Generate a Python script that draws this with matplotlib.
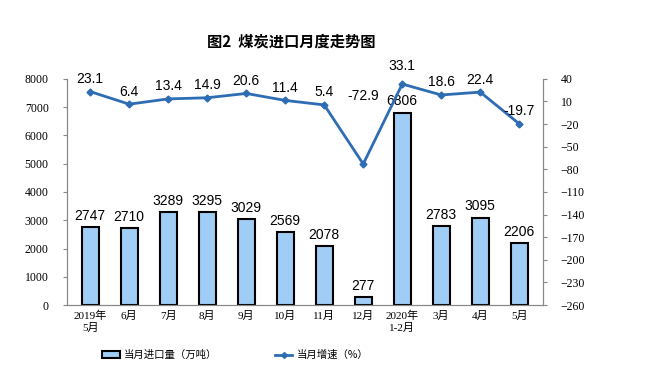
import matplotlib
matplotlib.use("Agg")
import matplotlib.pyplot as plt
from matplotlib.patches import Patch
from matplotlib.lines import Line2D

plt.rcParams['font.family'] = ['Liberation Serif', 'Noto Sans CJK SC']

months = ["2019年\n5月", "6月", "7月", "8月", "9月", "10月", "11月", "12月",
          "2020年\n1-2月", "3月", "4月", "5月"]
imports = [2747, 2710, 3289, 3295, 3029, 2569, 2078, 277, 6806, 2783, 3095, 2206]
growth = [23.1, 6.4, 13.4, 14.9, 20.6, 11.4, 5.4, -72.9, 33.1, 18.6, 22.4, -19.7]

bar_color = "#9fcdf5"
line_color = "#2e6db4"
label_font = ['Liberation Sans', 'Noto Sans CJK SC']

fig = plt.figure(figsize=(6.61, 3.79), dpi=100)
ax = fig.add_axes([0.101, 0.195, 0.72, 0.597])
ax2 = ax.twinx()

x = list(range(len(months)))
ax.bar(x, imports, width=0.43, color=bar_color, edgecolor="black", linewidth=1.5, zorder=2)
for xi, v in zip(x, imports):
    ax.annotate(str(v), (xi, v), xytext=(0, 3), textcoords="offset points",
                ha="center", va="bottom", fontsize=10, family=label_font)

ax.set_xlim(-0.6, len(months) - 0.4)
ax.set_ylim(0, 8000)
ax.set_yticks(range(0, 8001, 1000))
ax.set_xticks(x)
ax.set_xticklabels(months, fontsize=8)
ax.tick_params(axis="y", labelsize=8.5, length=3, color="#888888", pad=10)
ax.tick_params(axis="x", length=0, pad=4)

ax2.plot(x, growth, color=line_color, linewidth=2, marker="D", markersize=3.5, zorder=3)
for xi, v in zip(x, growth):
    dy = 4
    if v == -72.9:
        dy = 44
    elif v == 33.1:
        dy = 8
    ax2.annotate(f"{v:.1f}", (xi, v), xytext=(0, dy), textcoords="offset points",
                 ha="center", va="bottom", fontsize=10, family=label_font)
ax2.set_ylim(-260, 40)
ax2.set_yticks(range(-260, 41, 30))
ax2.tick_params(axis="y", labelsize=8.5, length=3, color="#888888", pad=10)

for a in (ax, ax2):
    a.spines["top"].set_visible(False)
    for s in ("left", "right", "bottom"):
        a.spines[s].set_color("#888888")
        a.spines[s].set_linewidth(0.8)

fig.text(0.44, 0.89, "图2  煤炭进口月度走势图", ha="center", va="center",
         fontsize=11, fontweight="bold", family=['Noto Sans CJK SC'])

handles = [Patch(facecolor=bar_color, edgecolor="black", linewidth=1.5),
           Line2D([0], [0], color=line_color, linewidth=2, marker="D", markersize=3)]
fig.legend(handles, ["当月进口量（万吨）", "当月增速（%）"], loc="center",
           bbox_to_anchor=(0.356, 0.063), ncol=2, frameon=False,
           columnspacing=5.5, handlelength=1.7, handletextpad=0.4,
           prop={'family': ['Noto Sans CJK SC'], 'size': 7.5})

fig.savefig("out.png", dpi=100)
